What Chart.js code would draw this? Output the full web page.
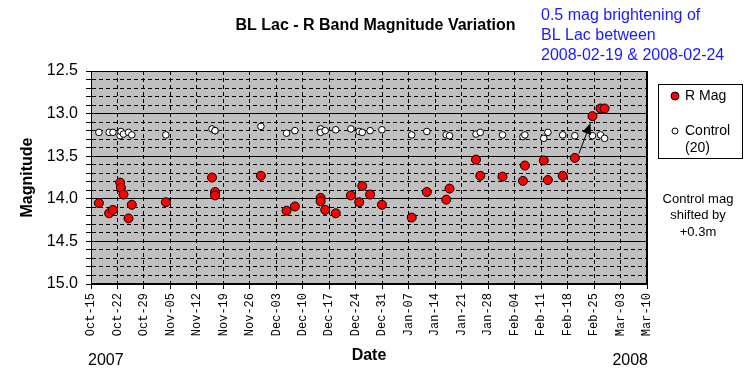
<!DOCTYPE html>
<html>
<head>
<meta charset="utf-8">
<script src="https://cdn.jsdelivr.net/npm/chart.js@4.4.1/dist/chart.umd.min.js"></script>
<style>
  body { margin: 0; background: #fff; }
  canvas { display: block; }
</style>
</head>
<body>
<canvas id="myChart" width="751" height="386"></canvas>
<script>
const obsDates = [
    '2007-10-17T02', '2007-10-19T19', '2007-10-20T19', '2007-10-22T17', '2007-10-22T22',
    '2007-10-23T14', '2007-10-24T22', '2007-10-25T19', '2007-11-03T19', '2007-11-16T00',
    '2007-11-16T19', '2007-11-16T19', '2007-11-28T22', '2007-12-05T17', '2007-12-07T22',
    '2007-12-14T17', '2007-12-14T17', '2007-12-15T22', '2007-12-18T17', '2007-12-22T17',
    '2007-12-24T22', '2007-12-25T17', '2007-12-27T19', '2007-12-30T22', '2008-01-07T19',
    '2008-01-11T19', '2008-01-16T22', '2008-01-17T19', '2008-01-24T19', '2008-01-25T22',
    '2008-01-31T19', '2008-02-06T05', '2008-02-06T17', '2008-02-11T17', '2008-02-12T19',
    '2008-02-16T17', '2008-02-19T22', '2008-02-24T14', '2008-02-26T17', '2008-02-27T19'
];
const rMag = [
    14.05, 14.17, 14.13, 13.81, 13.87, 13.95, 14.23, 14.07, 14.04, 13.75,
    13.92, 13.96, 13.73, 14.14, 14.09, 13.99, 14.03, 14.13, 14.17, 13.96,
    14.04, 13.85, 13.95, 14.07, 14.22, 13.92, 14.01, 13.88, 13.54, 13.73,
    13.74, 13.79, 13.61, 13.55, 13.78, 13.73, 13.52, 13.03, 12.94, 12.94
];
const controlMag = [
    13.22, 13.22, 13.22, 13.26, 13.21, 13.24, 13.22, 13.25, 13.25, 13.18,
    13.20, 13.20, 13.15, 13.23, 13.20, 13.18, 13.22, 13.20, 13.19, 13.18,
    13.21, 13.22, 13.20, 13.19, 13.25, 13.21, 13.25, 13.26, 13.24, 13.22,
    13.25, 13.27, 13.25, 13.29, 13.22, 13.25, 13.26, 13.26, 13.25, 13.29
];
const startDate = '2007-10-15';   // first x tick
const endDate = '2008-03-10';     // last x tick
const monthNames = ['Jan', 'Feb', 'Mar', 'Apr', 'May', 'Jun', 'Jul', 'Aug', 'Sep', 'Oct', 'Nov', 'Dec'];
const noteLines = ['0.5 mag brightening of', 'BL Lac between', '2008-02-19 & 2008-02-24'];
const shiftLines = ['Control mag', 'shifted by', '+0.3m'];

const DAY = 86400000;
const t0 = Date.parse(startDate + 'T00:00Z');
const toDay = s => (Date.parse(s.length > 10 ? s + ':00Z' : s + 'T00:00Z') - t0) / DAY;
const dayLabel = v => {
    let d = new Date(t0 + v * DAY);
    return monthNames[d.getUTCMonth()] + '-' + String(d.getUTCDate()).padStart(2, '0');
};

const sans = 'Liberation Sans, Arial, sans-serif';

// grey plot area, box round it, notes, legend, arrow
const extras = {
    id: 'extras',
    beforeDatasetsDraw(chart) {
        // nothing
    },
    beforeDraw(chart) {
        let {ctx, chartArea: a} = chart;
        ctx.save();
        ctx.fillStyle = '#c0c0c0';
        ctx.fillRect(a.left, a.top, a.right - a.left, a.bottom - a.top);
        ctx.restore();
    },
    afterDatasetsDraw(chart) {
        let {ctx, chartArea: a, scales} = chart;
        let x = scales.x, y = scales.y;
        ctx.save();
        ctx.strokeStyle = '#000';
        ctx.lineWidth = 1;
        ctx.strokeRect(a.left + 0.5, a.top + 0.5, a.right - a.left - 1, a.bottom - a.top - 1);

        // arrow toward the jump
        let x1 = x.getPixelForValue(toDay('2008-02-21T00')), y1 = y.getPixelForValue(13.47);
        let x2 = x.getPixelForValue(toDay('2008-02-24T02')), y2 = y.getPixelForValue(13.11);
        let ang = Math.atan2(y2 - y1, x2 - x1);
        ctx.beginPath();
        ctx.moveTo(x1, y1);
        ctx.lineTo(x2 - 8 * Math.cos(ang), y2 - 8 * Math.sin(ang));
        ctx.stroke();
        ctx.beginPath();
        ctx.moveTo(x2, y2);
        ctx.lineTo(x2 - 11 * Math.cos(ang) + 4.5 * Math.sin(ang), y2 - 11 * Math.sin(ang) - 4.5 * Math.cos(ang));
        ctx.lineTo(x2 - 11 * Math.cos(ang) - 4.5 * Math.sin(ang), y2 - 11 * Math.sin(ang) + 4.5 * Math.cos(ang));
        ctx.closePath();
        ctx.fillStyle = '#000';
        ctx.fill();

        // blue note
        ctx.fillStyle = '#1a1aff';
        ctx.font = '16px ' + sans;
        ctx.textAlign = 'left';
        ctx.textBaseline = 'middle';
        noteLines.forEach((t, i) => ctx.fillText(t, 541, 16 + i * 19.7));

        // legend
        ctx.strokeRect(658.5, 84.5, 84, 74);
        let ds = chart.data.datasets;
        ctx.font = '14px ' + sans;
        ctx.fillStyle = '#000';
        ctx.beginPath();
        ctx.arc(675, 96, 4, 0, Math.PI * 2);
        ctx.fillStyle = ds[0].backgroundColor;
        ctx.fill();
        ctx.stroke();
        ctx.fillStyle = '#000';
        ctx.fillText(ds[0].label, 685, 96);
        ctx.beginPath();
        ctx.arc(675, 131, 3, 0, Math.PI * 2);
        ctx.fillStyle = ds[1].backgroundColor;
        ctx.fill();
        ctx.stroke();
        ctx.fillStyle = '#000';
        ds[1].label.split(' ').forEach((t, i) => ctx.fillText(t, 685, 131 + i * 17));

        // shift note
        ctx.font = '13px ' + sans;
        ctx.textAlign = 'center';
        shiftLines.forEach((t, i) => ctx.fillText(t, 698, 199 + i * 16.7));

        // years
        ctx.font = '16px ' + sans;
        ctx.textAlign = 'left';
        ctx.fillText('2007', a.left - 3, 361);
        ctx.textAlign = 'right';
        ctx.fillText('2008', a.right + 1, 361);
        ctx.restore();
    }
};

let ctx = document.getElementById('myChart').getContext('2d');
let myChart = new Chart(ctx, {
    type: 'scatter',
    data: {
        datasets: [
            {
                label: 'R Mag',
                data: obsDates.map((d, i) => ({x: toDay(d), y: rMag[i]})),
                backgroundColor: '#ff0000',
                borderColor: '#000',
                borderWidth: 1,
                pointRadius: 4.5,
                pointHoverRadius: 4.5,
                order: 1
            },
            {
                label: 'Control (20)',
                data: obsDates.map((d, i) => ({x: toDay(d), y: controlMag[i]})),
                backgroundColor: '#ffffff',
                borderColor: '#000',
                borderWidth: 1,
                pointRadius: 3.3,
                pointHoverRadius: 3.3,
                order: 2
            }
        ]
    },
    options: {
        responsive: false,
        animation: false,
        events: [],
        layout: { padding: 0 },
        plugins: {
            legend: { display: false },
            tooltip: { enabled: false },
            title: {
                display: true,
                text: 'BL Lac - R Band Magnitude Variation',
                color: '#000',
                font: { family: sans, size: 16, weight: 'bold' },
                padding: { top: 16, bottom: 35.8 }
            }
        },
        scales: {
            x: {
                type: 'linear',
                min: 0,
                max: toDay(endDate),
                afterFit: s => { s.height = 102; },
                ticks: {
                    stepSize: 7,
                    autoSkip: false,
                    minRotation: 90,
                    maxRotation: 90,
                    padding: 4,
                    color: '#000',
                    font: { family: 'Liberation Mono, Courier New, monospace', size: 12 },
                    callback: v => dayLabel(v)
                },
                grid: { color: '#000', lineWidth: 1, tickLength: 5, tickColor: '#000' },
                border: { color: '#000', dash: [4, 3] },
                title: {
                    display: true,
                    text: 'Date',
                    color: '#000',
                    font: { family: sans, size: 16, weight: 'bold' },
                    padding: { top: 0, bottom: 21 }
                }
            },
            y: {
                type: 'linear',
                reverse: true,
                min: 12.5,
                max: 15.0,
                afterFit: s => { s.width = 91; },
                ticks: {
                    stepSize: 0.1,
                    autoSkip: false,
                    padding: 8,
                    color: '#000',
                    font: { family: sans, size: 16 },
                    callback: v => (Math.round(v * 10) % 5 === 0 ? v.toFixed(1) : '')
                },
                grid: { color: '#000', lineWidth: 1, tickLength: 5, tickColor: '#000' },
                border: { color: '#000', dash: [4, 3] },
                title: {
                    display: true,
                    text: 'Magnitude',
                    color: '#000',
                    font: { family: sans, size: 16, weight: 'bold' },
                    padding: { top: 18, bottom: 0 }
                }
            },
            y2: {
                type: 'linear',
                position: 'right',
                reverse: true,
                min: 12.5,
                max: 15.0,
                afterFit: s => { s.width = 104; },
                ticks: { stepSize: 0.5, display: false },
                grid: { color: '#000', lineWidth: 1, drawTicks: false },
                border: { color: '#000' }
            }
        }
    },
    plugins: [extras]
});
</script>
</body>
</html>
